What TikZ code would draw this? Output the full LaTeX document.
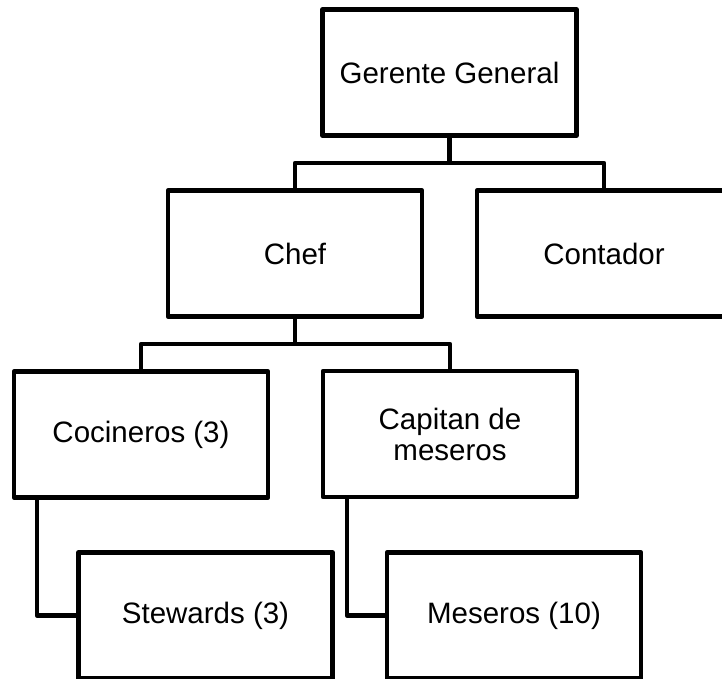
\documentclass[tikz,border=0pt]{standalone}
\usepackage{fontspec}
\setmainfont{Liberation Sans}
\begin{document}
\begin{tikzpicture}[x=1pt,y=-1pt,
  box/.style={draw=black, line width=4.5pt, line join=round, fill=white, rectangle,
    minimum width=254pt, minimum height=126pt, inner sep=0pt, align=center,
    font=\fontsize{29.5}{31}\selectfont},
  conn/.style={draw=black, line width=4.5pt, line join=round}]
\useasboundingbox (0,0) rectangle (722,679);
\clip (0,0) rectangle (722,679);
\fill[white] (0,0) rectangle (722,679);
\node[box] (gg) at (449.5,72.5) {Gerente General};
\node[box] (chef) at (295,253.5) {Chef};
\node[box] (cont) at (604,253.5) {Contador};
\node[box] (coc) at (141,434.5) {Cocineros (3)};
\node[box] (cap) at (450,434) {Capitan de\\meseros};
\node[box] (stew) at (205.5,615.5) {Stewards (3)};
\node[box] (mes) at (514,615.5) {Meseros (10)};
\coordinate (b1) at (449.5,163);
\coordinate (b2) at (295,344);
\draw[conn] (gg.south) -- (b1);
\draw[conn] (chef.north) |- (b1) -| (cont.north);
\draw[conn] (chef.south) -- (b2);
\draw[conn] (coc.north) |- (b2) -| (cap.north);
\draw[conn] (coc.south west) ++(25,0) |- (stew.west);
\draw[conn] (cap.south west) ++(26,0) |- (mes.west);
\end{tikzpicture}
\end{document}
